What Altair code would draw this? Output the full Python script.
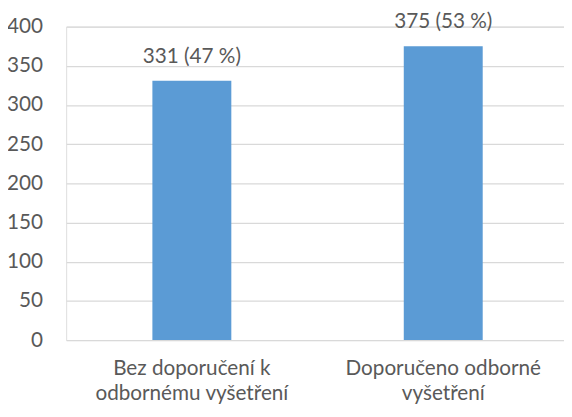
import altair as alt
import pandas as pd

categories = ["Bez doporučení k|odbornému vyšetření", "Doporučeno odborné|vyšetření"]
counts = [331, 375]
labels = ["331 (47 %)", "375 (53 %)"]

df = pd.DataFrame({"cat": categories, "n": counts, "lab": labels})

FONT = "Lato"
GREY = "#595959"

base = alt.Chart(df).encode(
    x=alt.X("cat:N", sort=categories, title=None,
            scale=alt.Scale(paddingInner=0.686, paddingOuter=0.343, range=[0, 510]),
            axis=alt.Axis(labelExpr="split(datum.label, '|')", labelAngle=0,
                          labelFontSize=21, labelFont=FONT, labelColor=GREY,
                          labelPadding=18, labelLineHeight=25, ticks=False,
                          labelLimit=0, domain=False, grid=False, labelBaseline="top")),
    y=alt.Y("n:Q", title=None,
            scale=alt.Scale(domain=[0, 400], nice=False),
            axis=alt.Axis(values=list(range(0, 401, 50)), labelFontSize=21,
                          labelFont=FONT, labelColor=GREY, labelPadding=24,
                          ticks=False, domain=False, gridColor="#d9d9d9",
                          gridWidth=1.3)),
)

bars = base.mark_bar(color="#5B9BD5")
text = base.mark_text(dy=-18, baseline="alphabetic", fontSize=21, font=FONT,
                      color=GREY).encode(text="lab:N")

chart = (bars + text).properties(
    width=505, height=318,
    autosize=alt.AutoSizeParams(type="none"),
    padding={"left": 59, "top": 16, "right": 0, "bottom": 67},
).configure_view(stroke=None).configure(background="white")

chart.save("out.html", embed_options={"renderer": "svg", "actions": False})
